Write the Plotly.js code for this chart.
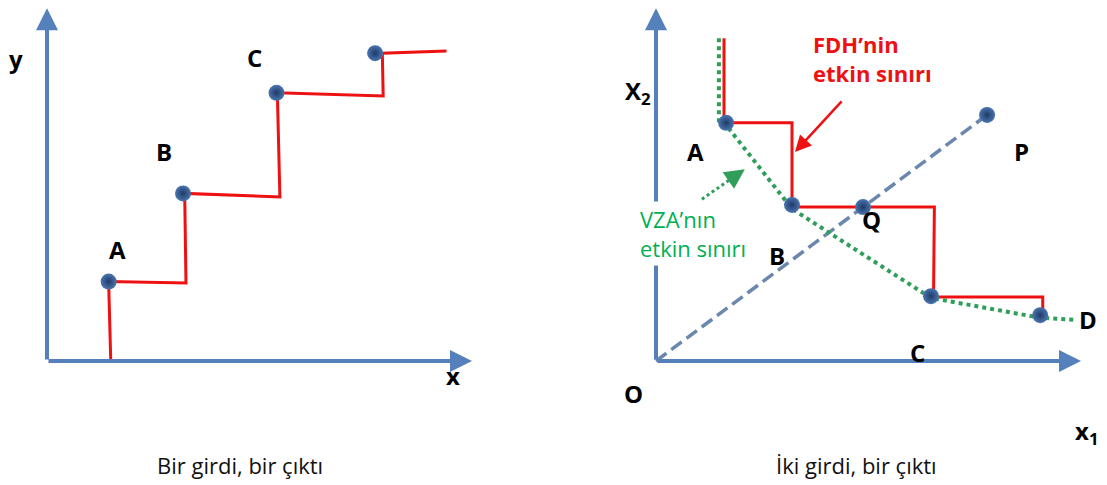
<!DOCTYPE html>
<html>
<head>
<meta charset="utf-8">
<script src="https://cdn.plot.ly/plotly-3.0.1.min.js"></script>
<style>html,body{margin:0;padding:0;background:#fff;}#chart{width:1107px;height:485px;}</style>
</head>
<body>
<div id="chart"></div>
<script>
// ---- Left panel: one input, one output ----
const leftPointLabels = ['A', 'B', 'C', ''];
const leftPointX = [1.45, 3.2, 5.4, 7.72];
const leftPointY = [1.8, 3.8, 6.08, 6.98];
const leftStepX = [1.5, 1.45, 3.27, 3.24, 5.48, 5.42, 7.91, 7.89, 9.4];
const leftStepY = [0, 1.8, 1.77, 3.8, 3.72, 6.08, 6.01, 6.98, 7.03];

// ---- Right panel: two inputs, one output ----
const rightPointLabels = ['A', 'B', 'C', 'D'];
const rightPointX = [1.65, 3.2, 6.47, 9.04];
const rightPointY = [5.4, 3.54, 1.47, 1.04];
const pointP = [7.79, 5.58];
const pointQ = [4.87, 3.49];
const fdhX = [1.6, 1.6, 3.2, 3.2, 6.55, 6.53, 9.1, 9.1];
const fdhY = [7.32, 5.4, 5.4, 3.49, 3.49, 1.45, 1.45, 1.04];
const vzaX = [1.48, 1.48, 1.65, 3.2, 6.47, 9.04, 9.9];
const vzaY = [7.32, 5.4, 5.35, 3.45, 1.43, 0.98, 0.93];

const axisColor = '#5580bb';
const redC = '#ee1111';
const greenC = '#2f9e5a';
const FONT = 'Open Sans, Noto Sans, sans-serif';

const marker = {size: 16, color: '#4a75b0', gradient: {type: 'radial', color: '#1f3a66'}, line: {width: 0}};

const traces = [
  {x: leftStepX, y: leftStepY, xaxis: 'x', yaxis: 'y', mode: 'lines', line: {color: redC, width: 3}, hoverinfo: 'skip'},
  {x: leftPointX, y: leftPointY, xaxis: 'x', yaxis: 'y', mode: 'markers', marker: marker, hoverinfo: 'skip'},
  {x: [0, pointP[0]], y: [0, pointP[1]], xaxis: 'x2', yaxis: 'y', mode: 'lines', line: {color: '#6c87ad', width: 3.5, dash: '13px,6px'}, hoverinfo: 'skip'},
  {x: fdhX, y: fdhY, xaxis: 'x2', yaxis: 'y', mode: 'lines', line: {color: redC, width: 3}, hoverinfo: 'skip'},
  {x: vzaX, y: vzaY, xaxis: 'x2', yaxis: 'y', mode: 'lines', line: {color: greenC, width: 4, dash: '4px,4px'}, hoverinfo: 'skip'},
  {x: [1.08, 1.9], y: [3.67, 4.22], xaxis: 'x2', yaxis: 'y', mode: 'lines', line: {color: greenC, width: 3, dash: '3px,3px'}, hoverinfo: 'skip'},
  {x: rightPointX.concat([pointP[0], pointQ[0]]), y: rightPointY.concat([pointP[1], pointQ[1]]), xaxis: 'x2', yaxis: 'y', mode: 'markers', marker: marker, hoverinfo: 'skip'}
];

function axisArrow(xref, x, y) {
  return {xref: xref, yref: 'y', axref: xref, ayref: 'y', x: x, y: y, ax: 0, ay: 0, text: '',
    showarrow: true, arrowhead: 2, arrowsize: 1.1, arrowwidth: 4, arrowcolor: axisColor};
}
function label(xref, x, y, text, opts) {
  return Object.assign({xref: xref, yref: 'y', x: x, y: y, text: text, showarrow: false,
    font: {family: FONT, size: 24, color: '#000', weight: 700}}, opts || {});
}

const annotations = [
  axisArrow('x', 0, 8.0), axisArrow('x', 10, 0),
  axisArrow('x2', 0, 8.0), axisArrow('x2', 10, 0),
  // left labels
  label('x', 1.65, 2.52, leftPointLabels[0]),
  label('x', 2.75, 4.74, leftPointLabels[1]),
  label('x', 4.89, 6.89, leftPointLabels[2]),
  label('x', -0.73, 6.85, 'y'),
  label('x', 9.55, -0.34, 'x'),
  // right labels
  label('x2', -0.42, 6.1, 'X<sub>2</sub>'),
  label('x2', 0.94, 4.74, rightPointLabels[0]),
  label('x2', 2.85, 2.4, rightPointLabels[1]),
  label('x2', 6.16, 0.2, rightPointLabels[2]),
  label('x2', 10.16, 0.93, rightPointLabels[3]),
  label('x2', 5.08, 3.2, 'Q'),
  label('x2', 8.61, 4.74, 'P'),
  label('x2', -0.54, -0.73, 'O'),
  label('x2', 10.14, -1.61, 'x<sub>1</sub>'),
  label('x2', 3.64, 6.85, 'FDH’nin<br>etkin sınırı', {xanchor: 'left', align: 'left', font: {family: FONT, size: 22, color: redC, weight: 700}}),
  {xref: 'x2', yref: 'y', axref: 'x2', ayref: 'y', x: 3.27, y: 4.74, ax: 4.4, ay: 5.92, text: '', showarrow: true,
    arrowhead: 2, arrowsize: 1.3, arrowwidth: 2.5, arrowcolor: redC},
  {xref: 'x2', yref: 'y', axref: 'x2', ayref: 'y', x: 2.09, y: 4.35, ax: 1.85, ay: 4.19, text: '', showarrow: true,
    arrowhead: 2, arrowsize: 1.6, arrowwidth: 2.5, arrowcolor: greenC},
  label('x2', -0.45, 2.88, 'VZA’nın<br>etkin sınırı', {xanchor: 'left', align: 'left', bgcolor: '#ffffff', borderpad: 2,
    font: {family: FONT, size: 22, color: '#00b050', weight: 400}}),
  // bottom captions
  {xref: 'paper', yref: 'paper', x: 240 / 1107, y: 20 / 485, xanchor: 'center', yanchor: 'middle', text: 'Bir girdi, bir çıktı', showarrow: false,
    font: {family: FONT, size: 22, color: '#111'}},
  {xref: 'paper', yref: 'paper', x: 856 / 1107, y: 20 / 485, xanchor: 'center', yanchor: 'middle', text: 'İki girdi, bir çıktı', showarrow: false,
    font: {family: FONT, size: 22, color: '#111'}}
];

const hidden = {visible: false, fixedrange: true};
const layout = {
  width: 1107, height: 485,
  margin: {l: 0, r: 0, t: 0, b: 0},
  paper_bgcolor: '#fff', plot_bgcolor: '#fff',
  showlegend: false,
  xaxis: Object.assign({domain: [0, 1], range: [-47 / 42.5, (1107 - 47) / 42.5]}, hidden),
  xaxis2: Object.assign({domain: [0, 1], overlaying: 'x', range: [-656 / 42.5, (1107 - 656) / 42.5]}, hidden),
  yaxis: Object.assign({domain: [0, 1], range: [(361 - 485) / 44.1, 361 / 44.1]}, hidden),
  annotations: annotations
};

Plotly.newPlot('chart', traces, layout, {displayModeBar: false, staticPlot: true});
</script>
</body>
</html>
